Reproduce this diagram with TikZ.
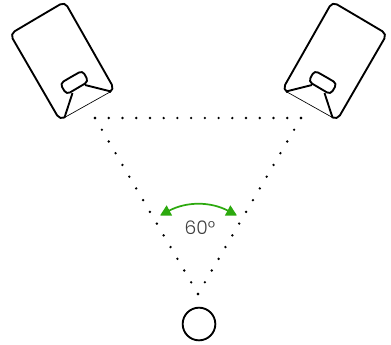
\documentclass[tikz,border=0pt]{standalone}
\usepackage{fontspec}
\setmainfont{Poppins Light}
\usetikzlibrary{arrows.meta,calc}
\definecolor{anglegreen}{HTML}{2CA90E}
\begin{document}
\begin{tikzpicture}[x=0.75pt,y=-0.75pt]
  \useasboundingbox (0,0) rectangle (391,344);
  \tikzset{boxline/.style={line width=1.4pt,rounded corners=4pt,line join=round},
    thinline/.style={line width=0.5pt}}
  \coordinate (apex) at (198,294);
  \coordinate (left) at (95,118);
  \coordinate (right) at (301,118);
  % speakers, the second one mirrored
  \foreach \sx/\ox in {1/0,-1/397}{
    \begin{scope}[shift={(\ox,0)},xscale=\sx]
      \draw[thinline] (64.5,117.5)--(110,92);
      \draw[boxline] (37,18)--(10,34)--(59.8,120)--(64.5,117.5);
      \draw[boxline] (110,92)--(114.5,89.4)--(64.7,1.7)--(37,18);
      \draw[boxline,rounded corners=3pt] (71,77)--(82.5,70.5)--(88.5,81.5)--(66.5,94.5)--(60,83.5)--(71,77);
      \draw[line width=1.4pt] (85,85)--(111,91.5);
      \draw[line width=1.4pt] (72.5,93)--(64.5,117.5);
    \end{scope}
  }
  % dotted triangle
  \foreach \i in {0,...,15}{
    \fill ($(apex)!\i/15!(left)$) circle (1pt);
    \fill ($(apex)!\i/15!(right)$) circle (1pt);
    \fill ($(left)!\i/15!(right)$) circle (1pt);
  }
  \coordinate (arcL) at (160,215.5);
  \coordinate (arcR) at (237,215.5);
  \draw[{Triangle[length=8pt,width=8.5pt]}-{Triangle[length=8pt,width=8.5pt]},anglegreen,line width=1.3pt] (arcL) to[bend left=28] (arcR);
  \node[font=\fontsize{14}{16}\selectfont,text=black!75,inner sep=0pt] (anglelabel) at (200,228) {60°};
  \node[draw,circle,line width=1.4pt,minimum size=24.5pt,inner sep=0pt] (listener) at (199,324) {};
\end{tikzpicture}
\end{document}
